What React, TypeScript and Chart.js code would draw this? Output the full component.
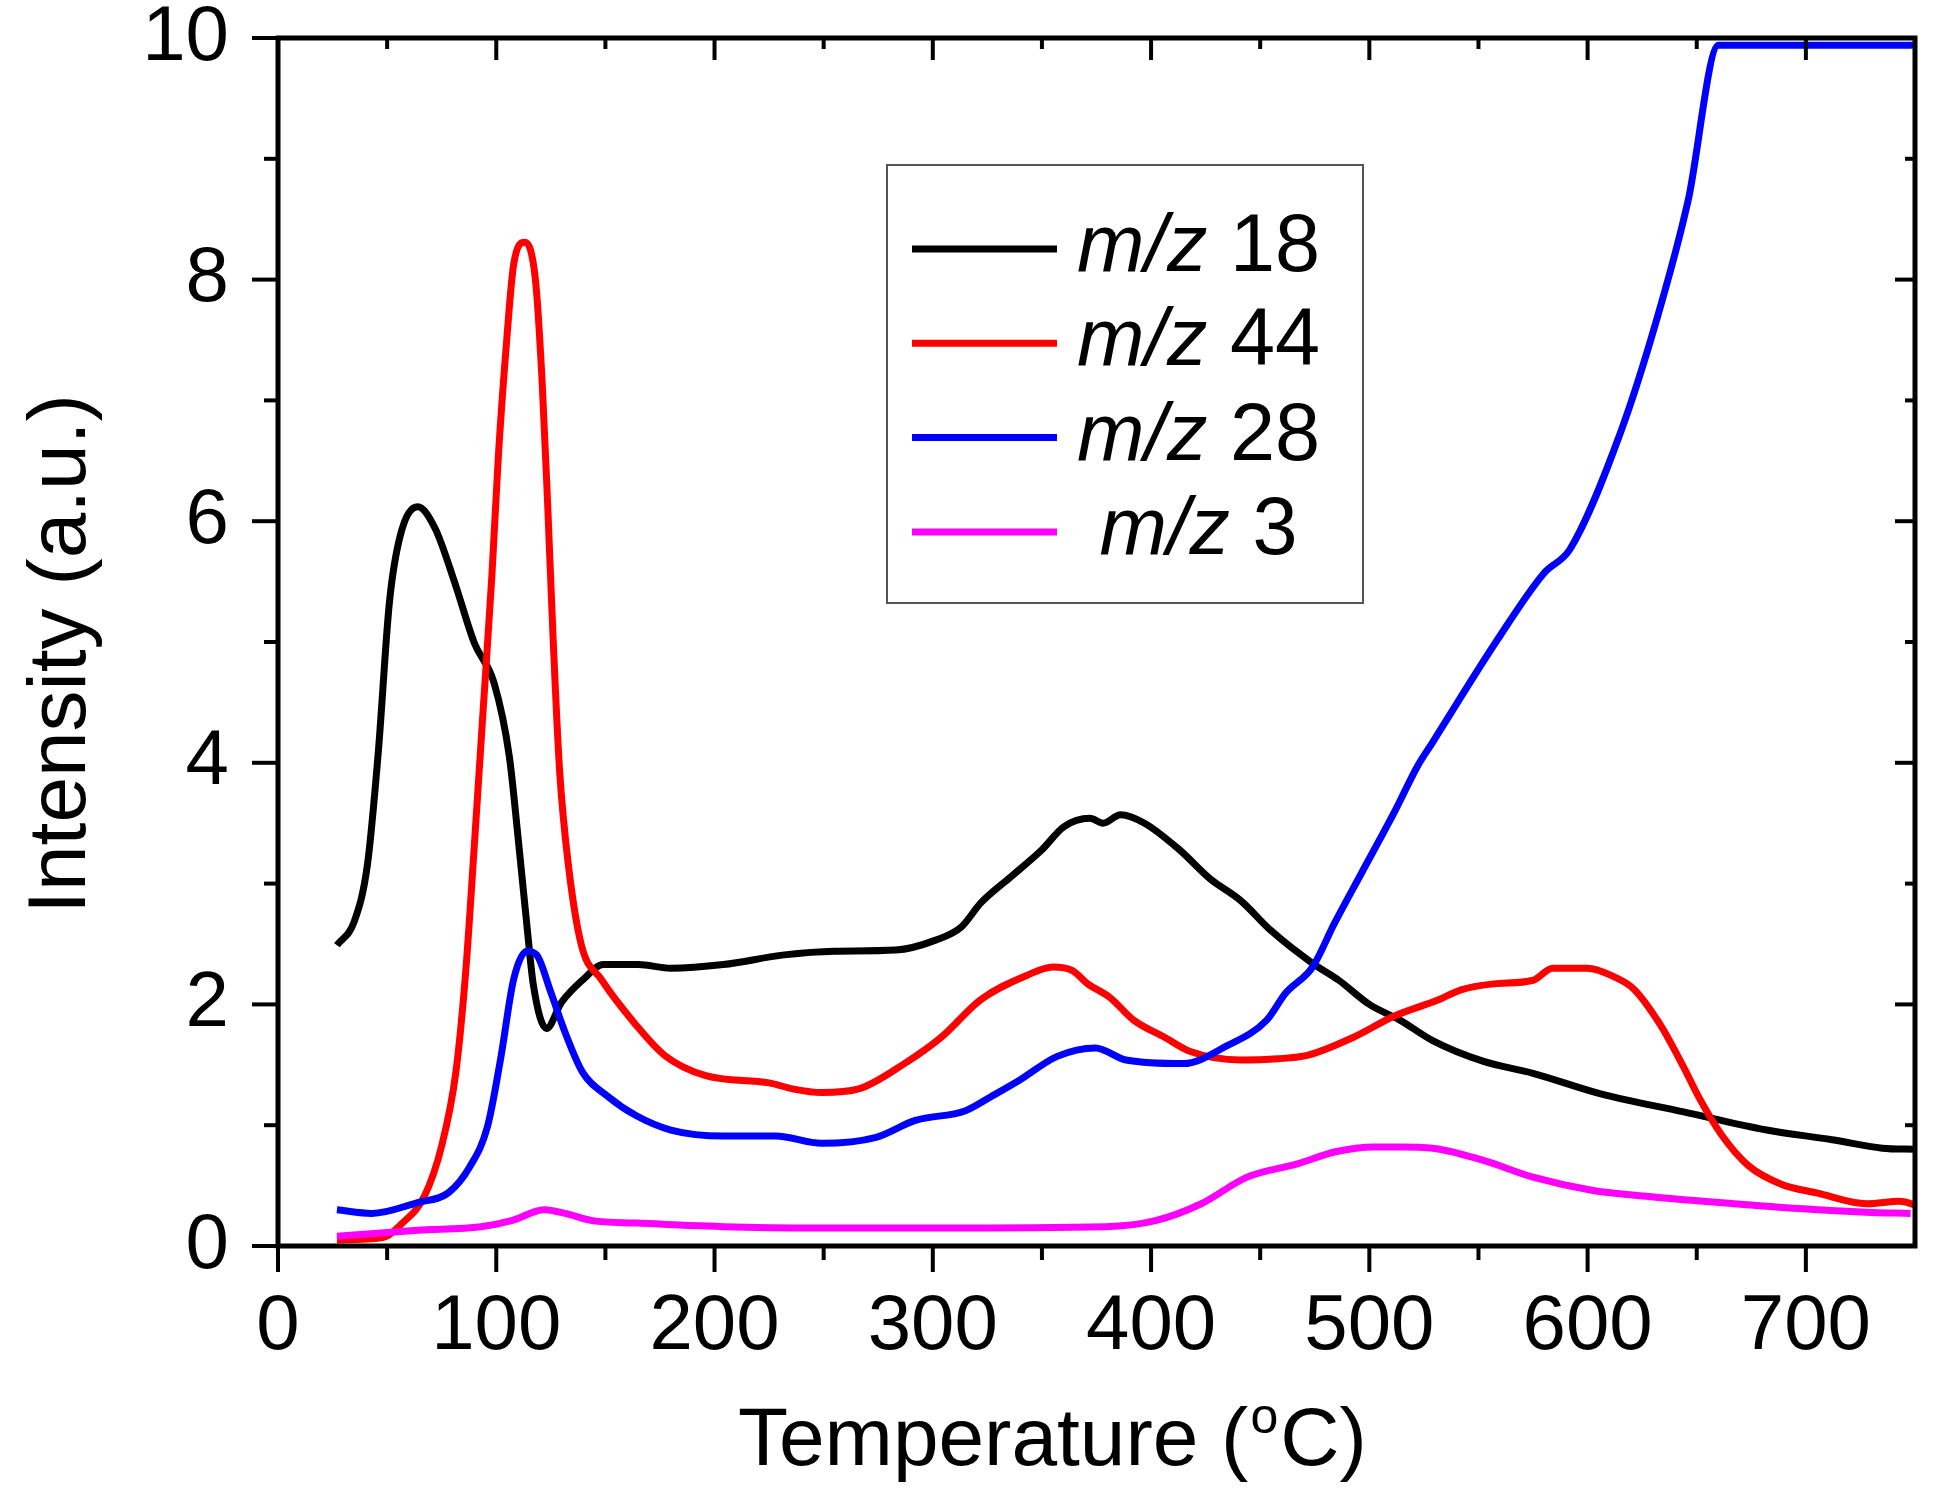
import React, { useEffect, useRef } from 'react';
import { Chart, registerables } from 'chart.js';

Chart.register(...registerables);

const FONT = '"Liberation Sans", Arial, Helvetica, sans-serif';

// m/z 18 (black)
const m18X = [27, 35, 41, 46, 51, 56, 64, 72, 81, 90, 99, 106, 110, 114, 117, 123, 130, 140, 149, 165, 180, 204, 232, 255, 283, 301, 313, 322, 336, 350, 360, 372, 378, 386, 397, 413, 427, 441, 455, 474, 486, 500, 514, 529, 552, 575, 606, 644, 682, 712, 735, 750];
const m18Y = [2.49, 2.69, 3.16, 4.1, 5.32, 5.88, 6.12, 5.94, 5.49, 4.99, 4.66, 4.05, 3.38, 2.66, 2.16, 1.8, 2.02, 2.21, 2.33, 2.33, 2.3, 2.33, 2.41, 2.44, 2.45, 2.53, 2.64, 2.84, 3.06, 3.28, 3.47, 3.54, 3.5, 3.57, 3.5, 3.28, 3.04, 2.86, 2.61, 2.34, 2.2, 2.0, 1.87, 1.7, 1.53, 1.43, 1.26, 1.11, 0.96, 0.88, 0.81, 0.8];

// m/z 44 (red)
const m44X = [27, 48, 57, 67, 75, 81.5, 86, 90, 94, 98, 101, 105, 108, 113, 118, 121, 123.5, 126, 129, 133, 139, 148, 164, 177, 196, 225, 236, 249, 266, 287, 304, 322, 343, 355, 364, 371, 381, 392, 406, 418, 441, 458, 472, 493, 511, 532, 542, 557, 575, 584, 600, 612, 621, 633, 644, 651, 661, 674, 689, 705, 728, 743, 750];
const m44Y = [0.05, 0.07, 0.19, 0.41, 0.83, 1.44, 2.27, 3.33, 4.44, 5.55, 6.55, 7.55, 8.13, 8.31, 7.99, 7.16, 6.16, 5.05, 3.94, 3.16, 2.49, 2.21, 1.83, 1.58, 1.41, 1.35, 1.3, 1.27, 1.3, 1.51, 1.73, 2.04, 2.24, 2.31, 2.28, 2.17, 2.06, 1.87, 1.73, 1.61, 1.54, 1.55, 1.58, 1.73, 1.9, 2.04, 2.12, 2.17, 2.2, 2.3, 2.3, 2.23, 2.13, 1.84, 1.48, 1.23, 0.93, 0.66, 0.51, 0.44, 0.35, 0.37, 0.34];

// m/z 28 (blue)
const m28X = [27, 43, 64, 78, 88, 96, 102, 108, 114, 118.5, 125, 131.5, 139.5, 151, 164, 180, 204, 228, 249, 274, 292, 315, 327, 339.5, 357, 374.5, 388.5, 415, 434, 453, 461.5, 474, 484, 496.5, 512, 522, 529, 558, 580, 592, 615, 632, 646, 660, 750];
const m28Y = [0.3, 0.27, 0.36, 0.44, 0.66, 0.99, 1.55, 2.21, 2.44, 2.41, 2.1, 1.77, 1.44, 1.24, 1.08, 0.96, 0.91, 0.91, 0.85, 0.9, 1.04, 1.12, 1.24, 1.37, 1.57, 1.64, 1.54, 1.51, 1.65, 1.87, 2.09, 2.31, 2.67, 3.09, 3.61, 3.97, 4.17, 5.0, 5.57, 5.77, 6.73, 7.69, 8.65, 9.94, 9.94];

// m/z 3 (magenta)
const m3X = [27, 64, 93, 107, 122, 131.5, 144, 164, 204, 249, 300, 379, 402, 423, 444, 467, 484.5, 502, 514, 529, 552, 575, 602.5, 628, 667, 697, 727.5, 748];
const m3Y = [0.08, 0.13, 0.16, 0.21, 0.3, 0.27, 0.21, 0.19, 0.16, 0.15, 0.15, 0.16, 0.21, 0.35, 0.57, 0.68, 0.78, 0.82, 0.82, 0.81, 0.71, 0.57, 0.46, 0.41, 0.35, 0.31, 0.28, 0.27];

const seriesLabels = ['m/z 18', 'm/z 44', 'm/z 28', ' m/z 3'];
const seriesColors = ['#000000', '#ff0000', '#0000ff', '#ff00ff'];

const xMajorTicks = [0, 100, 200, 300, 400, 500, 600, 700];
const xMinorTicks = [50, 150, 250, 350, 450, 550, 650];
const yMajorTicks = [0, 2, 4, 6, 8, 10];
const yMinorTicks = [1, 3, 5, 7, 9];

const xTitleParts = ['Temperature (', 'o', 'C)'];
const yTitle = 'Intensity (a.u.)';

const pts = (xs: number[], ys: number[]) => xs.map((x, i) => ({ x, y: ys[i] }));

const framePlugin = {
  id: 'frameAndLegend',
  afterDraw(chart: any) {
    const { ctx, chartArea: a, scales } = chart;
    const xs = scales.x;
    const ys = scales.y;
    ctx.save();
    ctx.strokeStyle = '#000';
    ctx.lineCap = 'butt';
    const seg = (x1: number, y1: number, x2: number, y2: number) => {
      ctx.beginPath();
      ctx.moveTo(x1, y1);
      ctx.lineTo(x2, y2);
      ctx.stroke();
    };
    ctx.lineWidth = 4;
    xMajorTicks.forEach((v) => {
      const p = xs.getPixelForValue(v);
      seg(p, a.bottom, p, a.bottom + 26);
      seg(p, a.top, p, a.top + 22);
    });
    xMinorTicks.forEach((v) => {
      const p = xs.getPixelForValue(v);
      seg(p, a.bottom, p, a.bottom + 14);
      seg(p, a.top, p, a.top + 11);
    });
    yMajorTicks.forEach((v) => {
      const p = ys.getPixelForValue(v);
      seg(a.left, p, a.left - 26, p);
      seg(a.right, p, a.right - 20, p);
    });
    yMinorTicks.forEach((v) => {
      const p = ys.getPixelForValue(v);
      seg(a.left, p, a.left - 14, p);
      seg(a.right, p, a.right - 10, p);
    });
    ctx.lineWidth = 5;
    ctx.strokeRect(a.left, a.top, a.right - a.left, a.bottom - a.top);

    // legend box
    const bx = 887, by = 165, bw = 476, bh = 438;
    ctx.lineWidth = 2;
    ctx.strokeStyle = '#555';
    ctx.strokeRect(bx, by, bw, bh);
    seriesLabels.forEach((lab, i) => {
      const ly = 249 + i * 94.3;
      ctx.strokeStyle = seriesColors[i];
      ctx.lineWidth = 7;
      seg(912, ly, 1057, ly);
      ctx.fillStyle = '#000';
      ctx.textBaseline = 'alphabetic';
      ctx.textAlign = 'left';
      const k = lab.indexOf('m/z');
      const pre = lab.slice(0, k);
      const rest = lab.slice(k + 3);
      let tx = 1077;
      ctx.font = `81px ${FONT}`;
      tx += ctx.measureText(pre).width;
      ctx.font = `italic 81px ${FONT}`;
      ctx.fillText('m/z', tx, ly + 22);
      tx += ctx.measureText('m/z').width;
      ctx.font = `81px ${FONT}`;
      ctx.fillText(rest, tx, ly + 22);
    });

    // axis titles
    ctx.fillStyle = '#000';
    ctx.textAlign = 'left';
    ctx.textBaseline = 'alphabetic';
    let tx = 738;
    const ty = 1465;
    ctx.font = `82px ${FONT}`;
    ctx.fillText(xTitleParts[0], tx, ty);
    tx += ctx.measureText(xTitleParts[0]).width;
    ctx.font = `50px ${FONT}`;
    ctx.fillText(xTitleParts[1], tx + 2, ty - 32);
    tx += ctx.measureText(xTitleParts[1]).width + 4;
    ctx.font = `82px ${FONT}`;
    ctx.fillText(xTitleParts[2], tx, ty);

    ctx.translate(85, 654);
    ctx.rotate(-Math.PI / 2);
    ctx.textAlign = 'center';
    ctx.font = `82px ${FONT}`;
    ctx.fillText(yTitle, 0, 0);
    ctx.restore();
  },
};

export default function App() {
  const ref = useRef<HTMLCanvasElement>(null);
  useEffect(() => {
    document.body.style.margin = '0';
    const canvas = ref.current;
    if (!canvas) return;
    const series = [pts(m18X, m18Y), pts(m44X, m44Y), pts(m28X, m28Y), pts(m3X, m3Y)];
    const chart = new Chart(canvas, {
      type: 'line',
      data: {
        datasets: series.map((d, i) => ({
          label: seriesLabels[i].trim(),
          data: d,
          borderColor: seriesColors[i],
          backgroundColor: seriesColors[i],
          borderWidth: 7,
          pointRadius: 0,
          fill: false,
          cubicInterpolationMode: 'monotone' as const,
          order: 4 - i,
        })),
      },
      options: {
        animation: false,
        responsive: true,
        maintainAspectRatio: false,
        devicePixelRatio: 1,
        layout: { padding: { top: 38, right: 39, left: 0, bottom: 0 } },
        plugins: { legend: { display: false }, tooltip: { enabled: false } },
        scales: {
          x: {
            type: 'linear',
            min: 0,
            max: 750,
            grid: { display: false },
            border: { display: false },
            afterBuildTicks: (s: any) => {
              s.ticks = xMajorTicks.map((v) => ({ value: v }));
            },
            afterFit: (s: any) => {
              s.height = 265;
              s.paddingLeft = 0;
              s.paddingRight = 0;
            },
            ticks: {
              font: { family: FONT, size: 78, lineHeight: 1 },
              color: '#000',
              padding: 34,
              maxRotation: 0,
              autoSkip: false,
            },
          },
          y: {
            type: 'linear',
            min: 0,
            max: 10,
            grid: { display: false },
            border: { display: false },
            afterBuildTicks: (s: any) => {
              s.ticks = yMajorTicks.map((v) => ({ value: v }));
            },
            afterFit: (s: any) => {
              s.width = 278;
              s.paddingTop = 0;
              s.paddingBottom = 0;
            },
            ticks: {
              font: { family: FONT, size: 78, lineHeight: 1 },
              color: '#000',
              padding: 41,
              autoSkip: false,
            },
          },
        },
      },
      plugins: [framePlugin],
    });
    return () => chart.destroy();
  }, []);
  return (
    <div style={{ width: 1954, height: 1511, position: 'relative', background: '#fff' }}>
      <canvas ref={ref} />
    </div>
  );
}
